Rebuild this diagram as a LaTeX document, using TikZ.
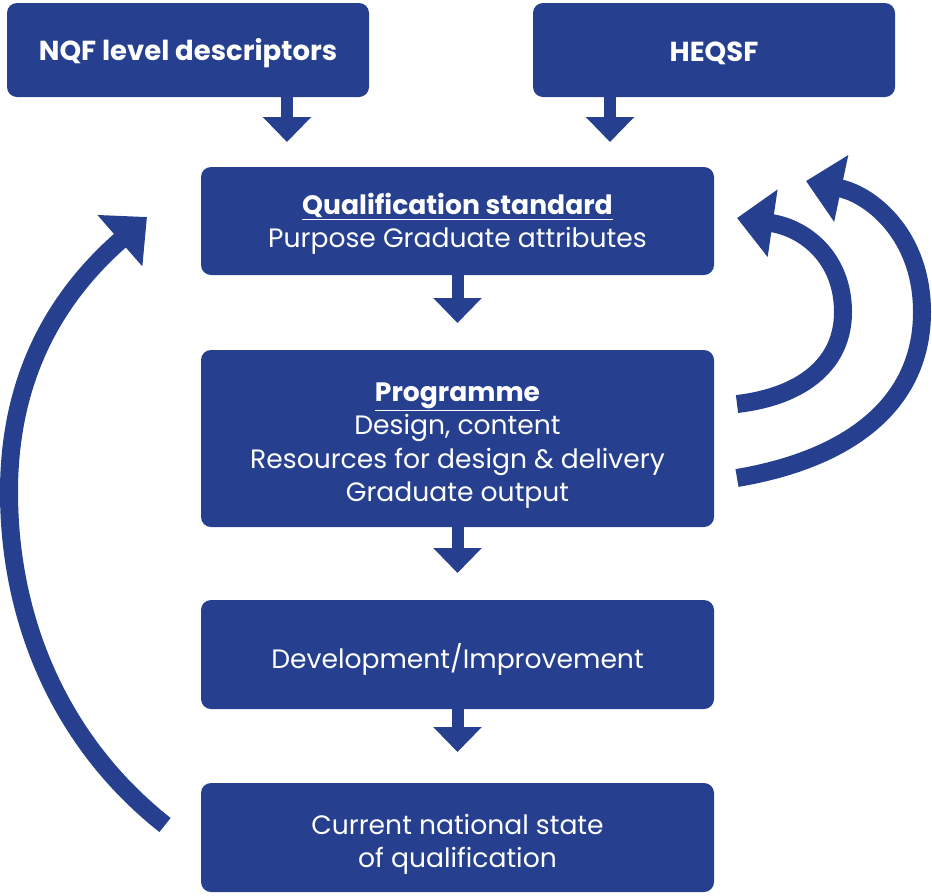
\documentclass[tikz,border=0pt]{standalone}
\usepackage{fontspec}
\setmainfont{Poppins}
\usetikzlibrary{arrows.meta}
\definecolor{navy}{RGB}{38,64,143}
\begin{document}
\begin{tikzpicture}[x=1pt,y=-1pt,
  box/.style={fill=navy, rounded corners=10pt, inner sep=0pt},
  bodytext/.style={text=white, align=center, font=\fontsize{26.6}{33.3}\selectfont, yshift=-5pt},
  toptext/.style={text=white, align=center, font=\fontsize{27.5}{30}\selectfont\bfseries, yshift=-3pt},
  smallarr/.style={draw=navy, line width=12pt, -{Triangle[width=47pt,length=25pt]}, fill=navy},
  bigarr/.style={draw=navy, line width=18pt, -{Triangle[width=66pt,length=36pt]}, fill=none}
]
\useasboundingbox (0,0) rectangle (932,895);

\node[box, minimum width=362pt, minimum height=94pt, label={[toptext]center:NQF level descriptors}] (nqf) at (188,50) {};
\node[box, minimum width=362pt, minimum height=94pt, label={[toptext]center:HEQSF}] (heqsf) at (714,50) {};
\node[box, minimum width=513pt, minimum height=108pt, label={[bodytext, yshift=2pt]center:{\textbf{\underline{Qualification standard}}\\Purpose Graduate attributes}}] (qs) at (457.5,221) {};
\node[box, minimum width=513pt, minimum height=177pt, label={[bodytext, yshift=-2pt]center:{\textbf{\underline{Programme}}\\Design, content\\Resources for design \& delivery\\Graduate output}}] (prog) at (457.5,438.5) {};
\node[box, minimum width=513pt, minimum height=109pt, label={[bodytext]center:Development/Improvement}] (dev) at (457.5,654.5) {};
\node[box, minimum width=513pt, minimum height=109pt, label={[bodytext, yshift=-2pt]center:{Current national state\\of qualification}}] (cur) at (457.5,837.5) {};

\coordinate (t1) at (287,142);
\coordinate (t2) at (610,142);
\coordinate (t3) at (457.5,323);
\coordinate (t4) at (457.5,573);
\coordinate (t5) at (457.5,752);
\draw[smallarr] (nqf.south -| t1) -- (t1);
\draw[smallarr] (heqsf.south -| t2) -- (t2);
\draw[smallarr] (qs.south) -- (t3);
\draw[smallarr] (prog.south) -- (t4);
\draw[smallarr] (dev.south) -- (t5);

% feedback arrows
\coordinate (a1s) at (737,404);
\coordinate (a1e) at (737,218);
\coordinate (a2s) at (737,478);
\coordinate (a2e) at (806,181);
\coordinate (a3s) at (165,825);
\coordinate (a3e) at (147,217);
\draw[bigarr] (a1s) .. controls (805,396) and (843,362) .. (843,312) .. controls (843,258) and (805,228) .. (a1e);
\draw[bigarr] (a2s) .. controls (855,458) and (922,400) .. (922,312) .. controls (922,236) and (872,195) .. (a2e);
\draw[bigarr] (a3s) .. controls (60,742) and (9,620) .. (9,492) .. controls (9,382) and (52,300) .. (a3e);
\end{tikzpicture}
\end{document}
